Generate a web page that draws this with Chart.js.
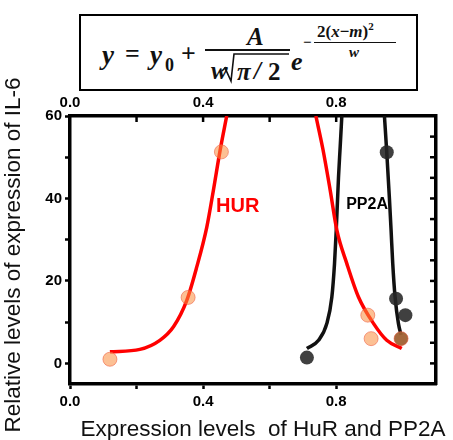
<!DOCTYPE html>
<html>
<head>
<meta charset="utf-8">
<script src="https://cdn.jsdelivr.net/npm/chart.js@4.4.1/dist/chart.umd.min.js"></script>
<style>
    html, body { margin: 0; padding: 0; background: #fff; }
    #wrap { position: relative; width: 453px; height: 440px; overflow: hidden; }
    #chart { position: absolute; left: 0; top: 0; }
    #formula { position: absolute; left: 79px; top: 14px; width: 339px; height: 77px; border: 2px solid #000; box-sizing: border-box; background: #fff; }
    #formula span { position: absolute; font-family: "Liberation Serif", "DejaVu Serif", serif; font-weight: bold; font-style: italic; line-height: 1; white-space: nowrap; color: #111; }
    #formula .up { font-style: normal; }
    #formula .bar { position: absolute; background: #111; }
    #formula svg { position: absolute; left: -2px; top: -2px; }
</style>
</head>
<body>
<div id="wrap">
    <canvas id="chart" width="453" height="440"></canvas>
    <!-- formula box: coordinates relative to the box (box at 79,14) -->
    <div id="formula">
        <span style="left:21px; top:26px; font-size:27px;">y</span>
        <span class="up" style="left:44px; top:25px; font-size:26px;">=</span>
        <span style="left:69px; top:26px; font-size:27px;">y</span>
        <span class="up" style="left:84px; top:40px; font-size:18px;">0</span>
        <span class="up" style="left:100px; top:25px; font-size:26px;">+</span>
        <span style="left:166px; top:8px; font-size:25px;">A</span>
        <div class="bar" style="left:124px; top:33px; width:85px; height:2px;"></div>
        <span style="left:130px; top:42px; font-size:25px;">w</span>
        <svg width="339" height="77"><polyline points="143,57 146,54 152,67 155,40 210,40" fill="none" stroke="#111" stroke-width="1.6"/></svg>
        <span style="left:156px; top:43px; font-size:25px;">π</span>
        <span style="left:173px; top:42px; font-size:25px;">/</span>
        <span class="up" style="left:187px; top:43px; font-size:25px;">2</span>
        <span style="left:210px; top:33px; font-size:26px;">e</span>
        <span class="up" style="left:222px; top:19px; font-size:15px;">−</span>
        <span class="up" style="left:236px; top:5px; font-size:17px;">2(<i>x</i>−<i>m</i>)<sup style="font-size:11px;">2</sup></span>
        <div class="bar" style="left:233px; top:26px; width:82px; height:1px;"></div>
        <span style="left:268px; top:29px; font-size:15px;">w</span>
    </div>
</div>
<script>
// ---------------------------------------------------------------
//  IL-6 vs HuR / PP2A expression, gaussian fits
// ---------------------------------------------------------------

// measured points
const hurX = [0.12, 0.355, 0.455, 0.895, 0.905, 0.995];
const hurY = [1.0, 16.0, 51.3, 11.7, 6.0, 6.0];
const pp2aX = [0.712, 0.952, 0.980, 1.008, 0.995];
const pp2aY = [1.4, 51.2, 15.7, 11.7, 6.0];

// fitted curves
const hurFitLeftX = [0.12, 0.21, 0.27, 0.311, 0.351, 0.381, 0.411, 0.431, 0.451, 0.471];
const hurFitLeftY = [2.8, 3.4, 5.6, 8.9, 15.3, 23.4, 33.0, 42.0, 51.6, 60.0];
const hurFitRightX = [0.739, 0.760, 0.782, 0.802, 0.832, 0.867, 0.912, 0.952, 0.997];
const hurFitRightY = [60.0, 52.0, 42.0, 32.3, 24.2, 16.1, 9.7, 5.6, 3.6];
const pp2aFitLeftX = [0.712, 0.747, 0.772, 0.787, 0.795, 0.800, 0.807, 0.812, 0.817];
const pp2aFitLeftY = [3.6, 5.6, 9.7, 16.1, 24.2, 32.0, 45.2, 52.5, 60.0];
const pp2aFitRightX = [0.945, 0.952, 0.960, 0.965, 0.970, 0.977, 0.987, 0.995];
const pp2aFitRightY = [60.0, 51.2, 40.0, 32.3, 24.2, 16.1, 9.7, 6.9];

// axes
const xMin = 0, xMax = 1.1, xStep = 0.2;
const xLabels = ['0.0', '0.4', '0.8'];
const yMin = -5, yMax = 60, yStep = 10;
const yLabels = ['0', '20', '40', '60'];
const y2Step = 5;

const xTitle = 'Expression levels  of HuR and PP2A';
const yTitle = 'Relative levels of expression of IL-6';
const seriesNames = ['HUR', 'PP2A'];

const toPts = (xs, ys) => xs.map((x, i) => ({ x: x, y: ys[i] }));

const fitLine = (xs, ys, color) => ({
    type: 'scatter',
    data: toPts(xs, ys),
    showLine: true,
    borderColor: color,
    borderWidth: 3.5,
    pointRadius: 0,
    cubicInterpolationMode: 'monotone',
    order: 3
});

const tickFont = { family: '"Liberation Sans", Arial, sans-serif', size: 15, weight: 'bold' };

const xTickCb = v => {
    const s = Number(v).toFixed(1);
    return xLabels.includes(s) ? s : '';
};
const yTickCb = v => {
    const s = String(Math.round(v));
    return yLabels.includes(s) ? s : '';
};

// inward ticks for top/right axes + text labels + axis titles
const decorPlugin = {
    id: 'decor',
    afterDraw(chart) {
        const { ctx, chartArea: a, scales } = chart;
        ctx.save();
        ctx.strokeStyle = '#000';
        ctx.lineWidth = 2.5;
        scales.x2.ticks.forEach(t => {
            const px = scales.x2.getPixelForValue(t.value);
            if (px <= a.left + 2 || px >= a.right - 2) return;
            ctx.beginPath(); ctx.moveTo(px, a.top); ctx.lineTo(px, a.top + 6); ctx.stroke();
        });
        scales.y2.ticks.forEach(t => {
            const py = scales.y2.getPixelForValue(t.value);
            if (py <= a.top + 2 || py >= a.bottom - 2) return;
            ctx.beginPath(); ctx.moveTo(a.right, py); ctx.lineTo(a.right - 6, py); ctx.stroke();
        });

        // series labels
        ctx.textBaseline = 'middle';
        ctx.textAlign = 'left';
        ctx.fillStyle = '#ff0000';
        ctx.font = 'bold 20px "Liberation Sans", Arial, sans-serif';
        ctx.fillText(seriesNames[0], scales.x.getPixelForValue(0.439), scales.y.getPixelForValue(38.1));
        ctx.fillStyle = '#000';
        ctx.font = 'bold 16px "Liberation Sans", Arial, sans-serif';
        ctx.fillText(seriesNames[1], scales.x.getPixelForValue(0.830), scales.y.getPixelForValue(38.6));

        // axis titles
        ctx.fillStyle = '#111';
        ctx.font = '22.5px "Liberation Sans", Arial, sans-serif';
        ctx.textAlign = 'center';
        ctx.fillText(xTitle, 263, 430);
        ctx.translate(14, 255);
        ctx.rotate(-Math.PI / 2);
        ctx.fillText(yTitle, 0, 0);
        ctx.restore();
    }
};

const axisGrid = { display: true, drawOnChartArea: false, drawTicks: true, tickLength: 5, tickWidth: 2.5, tickColor: '#000', color: '#000' };
const noTickGrid = { display: true, drawOnChartArea: false, drawTicks: false, color: '#000' };
const axisBorder = { display: true, color: '#000', width: 3.5 };

const chart = new Chart(document.getElementById('chart'), {
    type: 'scatter',
    data: {
        datasets: [
            {
                label: 'HuR',
                data: toPts(hurX, hurY),
                backgroundColor: 'rgba(250, 140, 60, 0.55)',
                borderColor: 'rgba(240, 100, 70, 0.6)',
                borderWidth: 1,
                pointRadius: 7,
                order: 1
            },
            {
                label: 'PP2A',
                data: toPts(pp2aX, pp2aY),
                backgroundColor: 'rgba(38, 38, 38, 0.88)',
                borderColor: 'rgba(38, 38, 38, 0.88)',
                borderWidth: 0,
                pointRadius: 7,
                order: 2
            },
            fitLine(hurFitLeftX, hurFitLeftY, '#ff0000'),
            fitLine(hurFitRightX, hurFitRightY, '#ff0000'),
            fitLine(pp2aFitLeftX, pp2aFitLeftY, '#111111'),
            fitLine(pp2aFitRightX, pp2aFitRightY, '#111111')
        ]
    },
    options: {
        responsive: false,
        animation: false,
        devicePixelRatio: 1,
        layout: { padding: 0 },
        plugins: { legend: { display: false }, tooltip: { enabled: false } },
        scales: {
            x: {
                type: 'linear', position: 'bottom', min: xMin, max: xMax,
                ticks: { stepSize: xStep, callback: xTickCb, color: '#000', font: tickFont, padding: 4, maxRotation: 0, autoSkip: false },
                afterBuildTicks: s => { s.ticks = s.ticks.filter(t => t.value < xMax - 1e-6); },
                afterFit: s => { s.height = 56; },
                grid: axisGrid, border: axisBorder
            },
            x2: {
                type: 'linear', position: 'top', min: xMin, max: xMax,
                ticks: { stepSize: xStep, callback: xTickCb, color: '#000', font: tickFont, padding: 4, maxRotation: 0, autoSkip: false },
                afterBuildTicks: s => { s.ticks = s.ticks.filter(t => t.value < xMax - 1e-6); },
                afterFit: s => { s.height = 116; },
                grid: noTickGrid, border: axisBorder
            },
            y: {
                type: 'linear', position: 'left', min: yMin, max: yMax,
                ticks: { stepSize: yStep, callback: yTickCb, color: '#000', font: tickFont, padding: 3, autoSkip: false },
                afterBuildTicks: s => { s.ticks = s.ticks.filter(t => t.value >= 0); },
                afterFit: s => { s.width = 70; },
                grid: axisGrid, border: axisBorder
            },
            y2: {
                type: 'linear', position: 'right', min: yMin, max: yMax,
                ticks: { stepSize: y2Step, display: false },
                afterBuildTicks: s => { s.ticks = s.ticks.filter(t => t.value >= 0); },
                afterFit: s => { s.width = 17; },
                grid: noTickGrid, border: axisBorder
            }
        }
    },
    plugins: [decorPlugin]
});
</script>
</body>
</html>
